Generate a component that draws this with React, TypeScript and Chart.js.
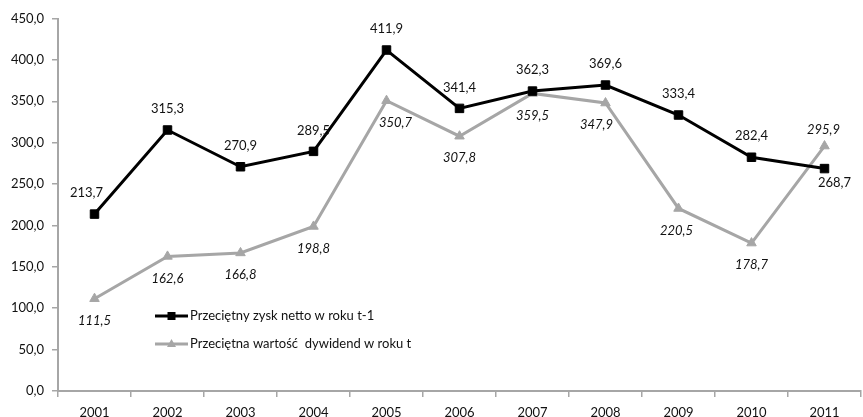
import { useEffect, useRef } from "react";
import { Chart, registerables } from "chart.js";

Chart.register(...registerables);

// Years on the category axis
const years = ["2001", "2002", "2003", "2004", "2005", "2006", "2007", "2008", "2009", "2010", "2011"];

// Average net profit in year t-1
const zyskNetto = [213.7, 315.3, 270.9, 289.5, 411.9, 341.4, 362.3, 369.6, 333.4, 282.4, 268.7];

// Average dividend value in year t
const dywidendy = [111.5, 162.6, 166.8, 198.8, 350.7, 307.8, 359.5, 347.9, 220.5, 178.7, 295.9];

// Value axis range
const yMin = 0;
const yMax = 450;
const yStep = 50;

const seriesNames = ["Przeciętny zysk netto w roku t-1", "Przeciętna wartość  dywidend w roku t"];

const FONT = "Lato, 'Noto Sans', sans-serif";
const TEXT = "#111111";
const AXIS = "#a6a6a6";
const BLACK = "#000000";
const GRAY = "#a6a6a6";

const fmt = (v: number) => v.toFixed(1).replace(".", ",");

// Label placement per series: dy is the vertical shift from the point, dx the horizontal one.
const labelPlacement = [
  { italic: false, dy: [-21, -21, -21, -21, -21, -21, -21, -21, -21, -21, 14], dx: [-8, 0, 0, 0, 0, 0, 0, 0, 0, 0, 10] },
  { italic: true, dy: [22, 22, 22, 22, 22, 22, 22, 22, 22, 22, -16], dx: [0, 0, 0, 0, 9, 0, 0, -9, -2, 0, -1] },
];

const valueLabels = {
  id: "valueLabels",
  afterDatasetsDraw(chart: any) {
    const { ctx } = chart;
    chart.data.datasets.forEach((ds: any, di: number) => {
      const meta = chart.getDatasetMeta(di);
      const place = labelPlacement[di];
      ctx.save();
      ctx.font = `${place.italic ? "italic " : ""}13px ${FONT}`;
      ctx.fillStyle = TEXT;
      ctx.textAlign = "center";
      ctx.textBaseline = "middle";
      meta.data.forEach((pt: any, i: number) => {
        ctx.fillText(fmt(ds.data[i]), pt.x + place.dx[i], pt.y + place.dy[i]);
      });
      ctx.restore();
    });
  },
};

const inlineLegend = {
  id: "inlineLegend",
  afterDraw(chart: any) {
    const { ctx, chartArea } = chart;
    const x0 = chartArea.left + 97;
    const x1 = x0 + 33;
    const rows = [chartArea.top + 297.5, chartArea.top + 325.5];
    chart.data.datasets.forEach((ds: any, di: number) => {
      const y = rows[di];
      const cx = (x0 + x1) / 2;
      ctx.save();
      ctx.strokeStyle = ds.borderColor;
      ctx.lineWidth = ds.borderWidth;
      ctx.beginPath();
      ctx.moveTo(x0, y);
      ctx.lineTo(x1, y);
      ctx.stroke();
      ctx.fillStyle = ds.pointBackgroundColor;
      if (ds.pointStyle === "rect") {
        ctx.fillRect(cx - 4, y - 4, 8, 8);
      } else {
        ctx.beginPath();
        ctx.moveTo(cx, y - 5);
        ctx.lineTo(cx + 4.5, y + 3);
        ctx.lineTo(cx - 4.5, y + 3);
        ctx.closePath();
        ctx.fill();
      }
      ctx.font = `13px ${FONT}`;
      ctx.fillStyle = TEXT;
      ctx.textAlign = "left";
      ctx.textBaseline = "middle";
      ctx.fillText(ds.label, x1 + 2, y);
      ctx.restore();
    });
  },
};

export default function App() {
  const ref = useRef<HTMLCanvasElement | null>(null);

  useEffect(() => {
    if (!ref.current) return;
    const chart = new Chart(ref.current, {
      type: "line",
      data: {
        labels: years,
        datasets: [
          {
            label: seriesNames[0],
            data: zyskNetto,
            borderColor: BLACK,
            backgroundColor: BLACK,
            borderWidth: 3,
            pointStyle: "rect",
            pointRadius: 6,
            pointBorderWidth: 1,
            pointBackgroundColor: BLACK,
            pointBorderColor: BLACK,
            tension: 0,
          },
          {
            label: seriesNames[1],
            data: dywidendy,
            borderColor: GRAY,
            backgroundColor: GRAY,
            borderWidth: 3,
            pointStyle: "triangle",
            pointRadius: 5.5,
            pointBorderWidth: 1,
            pointBackgroundColor: GRAY,
            pointBorderColor: GRAY,
            tension: 0,
          },
        ],
      },
      options: {
        animation: false,
        responsive: false,
        maintainAspectRatio: false,
        layout: { padding: { top: 18.5, left: 0, right: 0, bottom: 0 } },
        plugins: {
          legend: { display: false },
          tooltip: { enabled: false },
        },
        scales: {
          x: {
            offset: true,
            grid: { offset: true, drawOnChartArea: false, drawTicks: true, tickLength: 6, color: AXIS, lineWidth: 1.5 },
            border: { color: AXIS, width: 2 },
            ticks: { color: TEXT, font: { family: FONT, size: 13 }, padding: 8, maxRotation: 0, autoSkip: false },
            afterFit: (scale: any) => {
              scale.height = 26;
            },
          },
          y: {
            min: yMin,
            max: yMax,
            grid: { drawOnChartArea: false, drawTicks: true, tickLength: 6, color: AXIS, lineWidth: 1.5 },
            border: { color: AXIS, width: 2 },
            ticks: {
              stepSize: yStep,
              color: TEXT,
              font: { family: FONT, size: 13 },
              padding: 8,
              callback: (v: any) => fmt(Number(v)),
            },
            afterFit: (scale: any) => {
              scale.width = 58;
            },
          },
        },
      },
      plugins: [valueLabels, inlineLegend],
    });
    return () => chart.destroy();
  }, []);

  return (
    <div style={{ position: "absolute", left: 0, top: 0, width: 863, height: 417, overflow: "hidden", background: "#fff" }}>
      <canvas ref={ref} width={868} height={417} style={{ display: "block" }} />
    </div>
  );
}
